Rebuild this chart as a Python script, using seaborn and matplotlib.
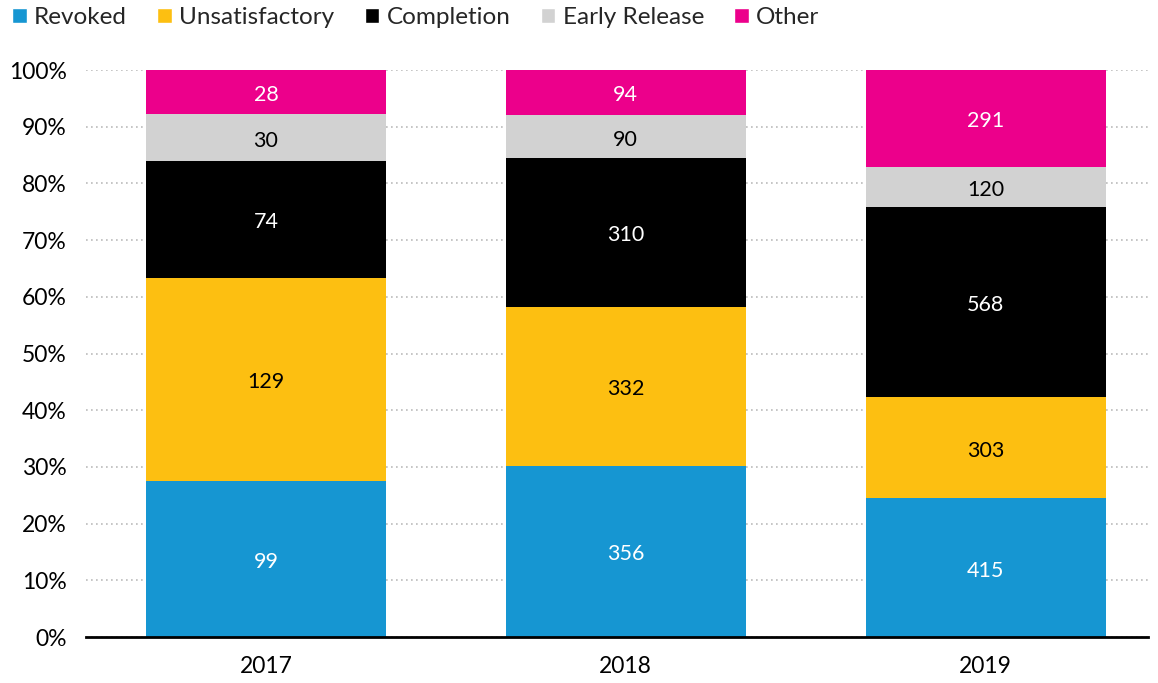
import numpy as np
import matplotlib.pyplot as plt
import seaborn as sns
import pandas as pd
from matplotlib.patches import Patch

years = ['2017', '2018', '2019']
categories = ['Revoked', 'Unsatisfactory', 'Completion', 'Early Release', 'Other']
revoked = [99, 356, 415]
unsatisfactory = [129, 332, 303]
completion = [74, 310, 568]
early_release = [30, 90, 120]
other = [28, 94, 291]
colors = ['#1696d2', '#fdbf11', '#000000', '#d2d2d2', '#ec008b']
text_colors = ['white', 'black', 'white', 'black', 'white']

sns.set_style('white')
plt.rcParams['font.family'] = ['Lato', 'DejaVu Sans']

counts = pd.DataFrame([revoked, unsatisfactory, completion, early_release, other],
                      index=categories, columns=years)
pct = counts / counts.sum() * 100
cum = pct.cumsum()

fig = plt.figure(figsize=(11.58, 6.83), dpi=100)
ax = fig.add_axes([0.0743, 0.0673, 0.9167, 0.8302])

# draw cumulative totals from the top layer down so each one covers the next
for cat, col in reversed(list(zip(categories, colors))):
    d = pd.DataFrame({'year': years, 'value': cum.loc[cat].values})
    sns.barplot(data=d, x='year', y='value', color=col, width=0.667,
                saturation=1, linewidth=0, ax=ax, zorder=3)

for i, y in enumerate(years):
    base = 0
    for cat, tc in zip(categories, text_colors):
        h = pct.loc[cat, y]
        ax.text(i, base + h / 2 - 0.5, str(counts.loc[cat, y]), ha='center', va='center',
                color=tc, fontsize=15.5, zorder=4)
        base += h

ax.set_xlim(-0.5, 2.45)
ax.set_ylim(0, 100)
ax.set_yticks(np.arange(0, 101, 10))
ax.set_yticklabels([f'{v}%' for v in range(0, 101, 10)])
ax.yaxis.grid(True, linestyle=(0, (1, 2)), color='#bbbbbb', linewidth=1.2, zorder=0)
ax.set_xlabel('')
ax.set_ylabel('')
for s in ['top', 'right', 'left']:
    ax.spines[s].set_visible(False)
ax.spines['bottom'].set_color('black')
ax.spines['bottom'].set_linewidth(2)
ax.spines['bottom'].set_zorder(5)
ax.tick_params(axis='x', length=0, labelsize=16.5, colors='black', pad=14)
ax.tick_params(axis='y', length=0, labelsize=16.5, colors='black', pad=14)

handles = [Patch(facecolor=c, label=l) for c, l in zip(colors, categories)]
fig.legend(handles=handles, loc='upper left', bbox_to_anchor=(0.002, 1.004), ncol=5,
           frameon=False, fontsize=17.5, handlelength=0.6, handleheight=0.6,
           handletextpad=0.3, columnspacing=1.25, borderaxespad=0)

fig.savefig('out.png', dpi=100)
